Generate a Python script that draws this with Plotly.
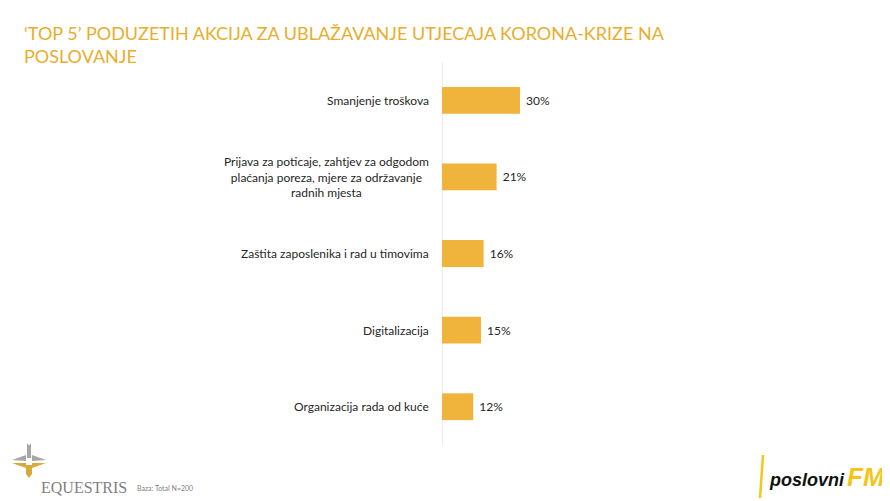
import plotly.graph_objects as go

# data
categories = [
    "Smanjenje troškova",
    "Prijava za poticaje, zahtjev za odgodom<br>plaćanja poreza, mjere za održavanje<br>radnih mjesta",
    "Zaštita zaposlenika i rad u timovima",
    "Digitalizacija",
    "Organizacija rada od kuće",
]
values = [30, 21, 16, 15, 12]
value_labels = [" 30%", " 21%", " 16%", " 15%", " 12%"]

title_text = "‘TOP 5’ PODUZETIH AKCIJA ZA UBLAŽAVANJE UTJECAJA KORONA-KRIZE NA<br>POSLOVANJE"
base_note = "Baza: Total N=200"

GOLD = "#F0B43C"
TITLE_GOLD = "#E9AD2B"
FONT = "Lato"

# the page body adds an 8px margin, so the figure is drawn 8px in from the corner
OFF = 8
W, H = 890 - OFF, 501 - OFF
# plot area in slide pixels (left, right, top, bottom)
L, R, T, B = 442, 842, 62, 445


def px(x, y):
    """slide pixel coords -> paper coords"""
    return (x - L) / (R - L), (B - y) / (B - T)


fig = go.Figure()
fig.add_trace(go.Bar(
    x=values,
    y=categories,
    orientation="h",
    marker=dict(color=GOLD, line=dict(width=0)),
    text=value_labels,
    textposition="outside",
    textfont=dict(family=FONT, size=12, color="#262626"),
    cliponaxis=False,
    hoverinfo="skip",
))

fig.update_layout(
    width=W,
    height=H,
    margin=dict(l=L - OFF, r=W - (R - OFF), t=T - OFF, b=H - (B - OFF), autoexpand=False),
    paper_bgcolor="white",
    plot_bgcolor="white",
    showlegend=False,
    bargap=0.65,
    font=dict(family=FONT, size=12, color="#262626"),
)
fig.update_xaxes(range=[0, 153.8], visible=False, fixedrange=True)
fig.update_yaxes(
    autorange="reversed",
    showticklabels=False,
    showgrid=False,
    zeroline=False,
    showline=False,
    fixedrange=True,
)

# thin grey baseline at x=0
fig.add_shape(type="line", xref="x", yref="paper", x0=0, x1=0, y0=0, y1=1,
              line=dict(color="#D9D9D9", width=1), layer="below")

# category labels as annotations so multi-line text is centred
for cat in categories:
    fig.add_annotation(
        x=0, xref="paper", y=cat, yref="y",
        text=cat, showarrow=False, xanchor="right", xshift=-11,
        align="center", font=dict(family=FONT, size=12, color="#262626"),
    )

# title
tx, ty = px(22, 20)
fig.add_annotation(
    x=tx, y=ty, xref="paper", yref="paper",
    text=title_text, showarrow=False, xanchor="left", yanchor="top",
    align="left", font=dict(family=FONT, size=18, color=TITLE_GOLD),
)

# EQUESTRIS logo (rough)
grey_parts = [
    [(27, 443), (30, 447), (30, 458), (27, 458)],
    [(31, 443), (28, 447), (28, 458), (31, 458)],
    [(12, 460), (26, 455), (26, 461)],
    [(46, 460), (32, 455), (32, 461)],
]
gold_parts = [
    [(12, 463), (26, 463), (26, 468)],
    [(46, 463), (32, 463), (32, 468)],
    [(26, 465), (29, 465), (29, 478), (26, 474)],
    [(32, 465), (29, 465), (29, 478), (32, 474)],
]
for parts, col in ((grey_parts, "#A6A6A6"), (gold_parts, "#D9A93A")):
    for pts in parts:
        coords = [px(x, y) for x, y in pts]
        path = "M " + " L ".join(f"{a:.4f},{b:.4f}" for a, b in coords) + " Z"
        fig.add_shape(type="path", xref="paper", yref="paper", path=path,
                      fillcolor=col, line=dict(width=0))

fig.add_annotation(
    x=px(39, 0)[0], y=px(0, 487)[1], xref="paper", yref="paper",
    text="EQUESTRIS", showarrow=False, xanchor="left", yanchor="middle",
    font=dict(family="Liberation Serif", size=16, color="#7F7F7F"),
)
fig.add_annotation(
    x=px(135, 0)[0], y=px(0, 488)[1], xref="paper", yref="paper",
    text=base_note, showarrow=False, xanchor="left", yanchor="middle",
    font=dict(family=FONT, size=7, color="#7F7F7F"),
)

# poslovniFM logo (rough)
x0, y0 = px(763, 455)
x1, y1 = px(760, 498)
fig.add_shape(type="line", xref="paper", yref="paper", x0=x0, y0=y0, x1=x1, y1=y1,
              line=dict(color="#F5C518", width=2.5))
fig.add_annotation(
    x=px(767, 0)[0], y=px(0, 480)[1], xref="paper", yref="paper",
    text="<b><i>poslovni</i></b>", showarrow=False, xanchor="left", yanchor="middle",
    font=dict(family="Liberation Sans", size=18, color="#111111"),
)
fig.add_annotation(
    x=px(845, 0)[0], y=px(0, 477)[1], xref="paper", yref="paper",
    text="<b><i>FM</i></b>", showarrow=False, xanchor="left", yanchor="middle",
    font=dict(family="Liberation Sans", size=26, color="#F5C518"),
)

fig.write_html("out.html")
